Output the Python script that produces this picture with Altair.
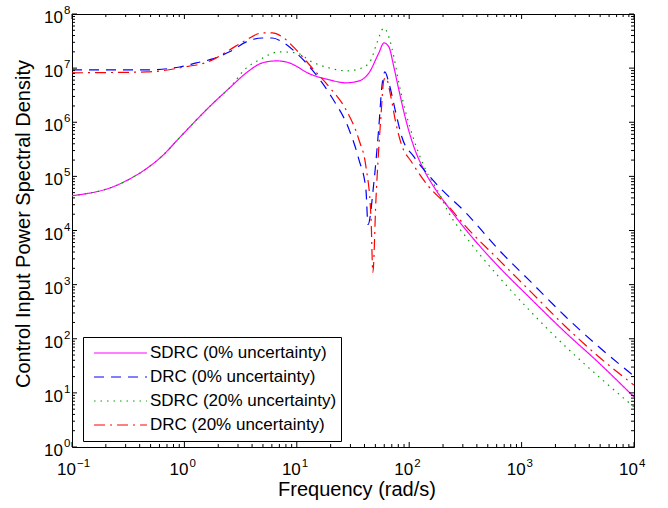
import altair as alt
import pandas as pd

W, H = 562, 433
FONT = "Liberation Sans"

# ---- series names (legend order) ----
names = ["SDRC (0% uncertainty)", "DRC (0% uncertainty)",
         "SDRC (20% uncertainty)", "DRC (20% uncertainty)"]
colors = ["#FF00FF", "#0000FF", "#00A000", "#FF0000"]
dashes = [[1, 0], [10, 7], [1.5, 5], [11, 5, 2, 5]]
x_title = "Frequency (rad/s)"
y_title = "Control Input Power Spectral Density"

# ---- data ----
sdrc0_freq = [0.1, 0.118, 0.231, 0.327, 0.462, 0.65, 0.906, 1.78, 2.52, 3.56, 4.93, 6.56, 8.05,
              13.7, 19.4, 27.4, 35.7, 43.9, 53.7, 59.6, 65.9, 73.0, 80.9, 93.3,
              110, 135, 172, 224, 318, 622, 1222, 2443, 4797, 10000]
sdrc0_psd = [4.4e4, 4.6e4, 6.4e4, 9.0e4, 1.4e5, 2.5e5, 5.2e5, 2.2e6, 4.3e6, 8.2e6, 1.25e7, 1.36e7, 1.30e7,
             7.5e6, 6.1e6, 5.35e6, 5.8e6, 8.2e6, 1.91e7, 2.92e7, 2.47e7, 1.05e7, 3.97e6, 1.11e6,
             3.53e5, 1.33e5, 5.7e4, 2.65e4, 1.04e4, 2.17e3, 535, 132, 36.9, 8.4]

drc0_freq = [0.1, 0.462, 0.906, 1.28, 1.78, 2.52, 3.56, 4.93, 6.05, 7.43, 9.89,
             13.7, 20.6, 29.2, 35.7, 41.2, 43.0, 48.5, 53.7, 57.1, 60.8, 65.9,
             76.0, 85.9, 110, 140, 183, 318, 622, 1222, 2443, 4797, 10000]
drc0_psd = [9.3e6, 9.3e6, 1.05e7, 1.25e7, 1.48e7, 2.0e7, 3.05e7, 3.6e7, 3.6e7, 3.05e7, 1.91e7,
            9.3e6, 2.83e6, 7.3e5, 2.04e5, 5.7e4, 1.29e4, 7.7e4, 8.3e5, 4.5e6, 8.5e6, 5.35e6,
            1.50e6, 5.4e5, 2.31e5, 1.22e5, 6.5e4, 2.15e4, 4.47e3, 1.10e3, 260, 72.8, 20.4]

sdrc20_freq = [0.1, 0.118, 0.231, 0.327, 0.462, 0.65, 0.906, 1.78, 2.52, 3.56, 4.65, 6.98, 9.89,
               13.7, 19.4, 27.4, 38.0, 45.7, 51.6, 59.6, 65.9, 73.0, 80.9, 93.3,
               110, 140, 183, 224, 318, 622, 1222, 2443, 4797, 10000]
sdrc20_psd = [4.4e4, 4.6e4, 6.4e4, 9.0e4, 1.4e5, 2.5e5, 5.2e5, 2.2e6, 4.3e6, 1.01e7, 1.42e7, 2.0e7, 1.91e7,
              1.30e7, 1.01e7, 8.9e6, 1.01e7, 1.42e7, 2.92e7, 5.5e7, 3.77e7, 1.61e7, 5.35e6, 1.50e6,
              4.75e5, 1.33e5, 5.0e4, 2.15e4, 7.7e3, 1.42e3, 308, 72.8, 20.4, 5.5]

drc20_freq = [0.1, 0.462, 0.906, 1.78, 2.52, 3.56, 4.93, 6.05, 7.43, 9.89, 13.7,
              19.4, 27.4, 35.7, 41.2, 45.7, 47.5, 50.6, 56.0, 59.6, 62.1, 68.7,
              76.0, 84.3, 106, 149, 224, 318, 622, 1222, 2443, 4797, 10000]
drc20_psd = [8.2e6, 8.5e6, 1.01e7, 1.42e7, 2.17e7, 3.32e7, 4.47e7, 4.47e7, 3.77e7, 2.17e7, 1.01e7,
             4.5e6, 1.70e6, 4.75e5, 1.51e5, 1.81e4, 1.68e3, 3.72e4, 1.26e6, 6.1e6, 6.6e6, 2.95e6,
             9.8e5, 4.2e5, 1.79e5, 6.5e4, 2.77e4, 1.19e4, 2.92e3, 720, 170, 47.5, 13.9]

# ---- tick values / labels ----
x_major = [0.1, 1, 10, 100, 1000, 10000]
x_exp = ["\u22121", "0", "1", "2", "3", "4"]
y_major = [1, 10, 100, 1e3, 1e4, 1e5, 1e6, 1e7, 1e8]
y_exp = ["0", "1", "2", "3", "4", "5", "6", "7", "8"]
mult = [2, 3, 4, 5, 6, 7, 8, 9]
x_minor = [m * d for d in x_major[:-1] for m in mult]
y_minor = [m * d for d in y_major[:-1] for m in mult]

rows = []
for nm, fr, ps in [(names[0], sdrc0_freq, sdrc0_psd), (names[1], drc0_freq, drc0_psd),
                   (names[2], sdrc20_freq, sdrc20_psd), (names[3], drc20_freq, drc20_psd)]:
    for f, p in zip(fr, ps):
        rows.append({"f": f, "psd": p, "series": nm})
df = pd.DataFrame(rows)

xs = alt.Scale(type="log", domain=[0.1, 10000], nice=False)
ys = alt.Scale(type="log", domain=[1, 1e8], nice=False)

leg = alt.Legend(title=None, orient="none", legendX=11, legendY=323,
                 labelFontSize=17, labelFont=FONT, labelColor="black",
                 symbolType="stroke", symbolSize=2800, symbolStrokeWidth=1.2,
                 padding=4, strokeColor="black", fillColor="white",
                 rowPadding=0, clipHeight=24, labelOffset=2, symbolOffset=6,
                 labelLimit=400, cornerRadius=0)

lines = alt.Chart(df).mark_line(interpolate="monotone", strokeWidth=1.2).encode(
    x=alt.X("f:Q", scale=xs, axis=None),
    y=alt.Y("psd:Q", scale=ys, axis=None),
    color=alt.Color("series:N", scale=alt.Scale(domain=names, range=colors), legend=leg),
    strokeDash=alt.StrokeDash("series:N", scale=alt.Scale(domain=names, range=dashes), legend=leg),
)

xmaj = pd.DataFrame({"v": x_major, "e": x_exp})
ymaj = pd.DataFrame({"v": y_major, "e": y_exp})
xmin = pd.DataFrame({"v": x_minor})
ymin = pd.DataFrame({"v": y_minor})

def xrule(data, y0, y1):
    return alt.Chart(data).mark_rule(color="black", strokeWidth=1).encode(
        x=alt.X("v:Q", scale=xs, axis=None), y=alt.value(y0), y2=alt.value(y1))

def yrule(data, x0, x1):
    return alt.Chart(data).mark_rule(color="black", strokeWidth=1).encode(
        y=alt.Y("v:Q", scale=ys, axis=None), x=alt.value(x0), x2=alt.value(x1))

ticks = [
    xrule(xmaj, H, H - 5), xrule(xmaj, 0, 5),
    xrule(xmin, H, H - 3), xrule(xmin, 0, 3),
    yrule(ymaj, 0, 5), yrule(ymaj, W, W - 5),
    yrule(ymin, 0, 3), yrule(ymin, W, W - 3),
]

xl10 = alt.Chart(xmaj).mark_text(align="right", baseline="alphabetic", dx=4,
                                 fontSize=17, font=FONT, color="black").encode(
    x=alt.X("v:Q", scale=xs, axis=None), y=alt.value(H + 28), text=alt.value("10"))
xlexp = alt.Chart(xmaj).mark_text(align="left", baseline="alphabetic", dx=5,
                                  fontSize=11.5, font=FONT, color="black").encode(
    x=alt.X("v:Q", scale=xs, axis=None), y=alt.value(H + 20), text="e:N")
yl10 = alt.Chart(ymaj).mark_text(align="right", baseline="alphabetic", dy=9,
                                 fontSize=17, font=FONT, color="black").encode(
    y=alt.Y("v:Q", scale=ys, axis=None), x=alt.value(-9), text=alt.value("10"))
ylexp = alt.Chart(ymaj).mark_text(align="left", baseline="alphabetic", dy=0,
                                  fontSize=11.5, font=FONT, color="black").encode(
    y=alt.Y("v:Q", scale=ys, axis=None), x=alt.value(-8), text="e:N")

xt = alt.Chart(pd.DataFrame({"t": [x_title]})).mark_text(
    align="center", baseline="middle", fontSize=20, font=FONT, color="black").encode(
    x=alt.value(285), y=alt.value(H + 43), text="t:N")
yt = alt.Chart(pd.DataFrame({"t": [y_title]})).mark_text(
    align="center", baseline="middle", angle=270, fontSize=20, font=FONT, color="black").encode(
    x=alt.value(-48), y=alt.value(210), text="t:N")

chart = alt.layer(lines, *ticks, xl10, xlexp, yl10, ylexp, xt, yt).properties(
    width=W, height=H,
    autosize=alt.AutoSizeParams(type="none"),
    padding={"left": 72, "top": 14, "right": 34, "bottom": 61},
).configure(background="white", font=FONT).configure_view(stroke="black", strokeWidth=1)

chart.save("out.html", embed_options={"renderer": "svg", "actions": False})
